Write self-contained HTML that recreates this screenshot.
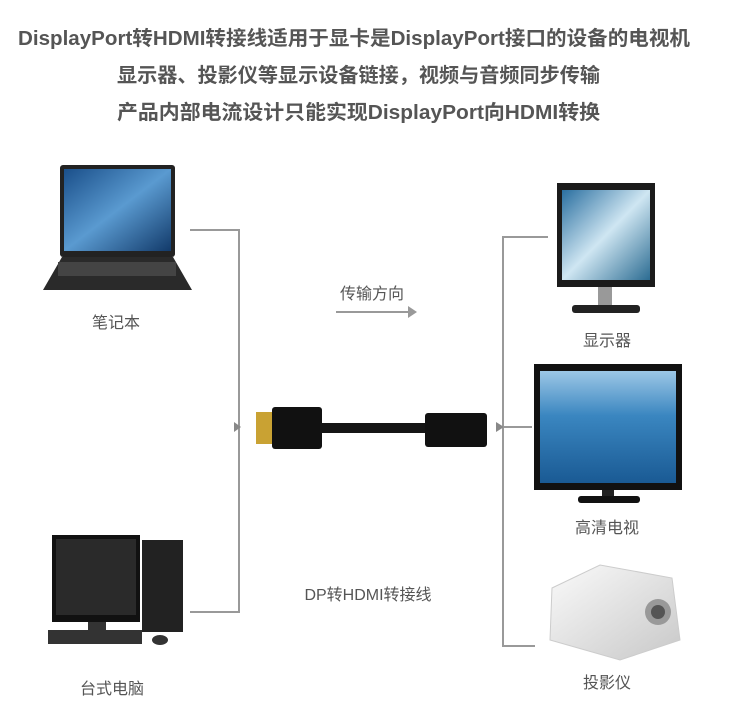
<!DOCTYPE html>
<html><head><meta charset="utf-8"><style>
body{margin:0;background:#fff;width:747px;height:707px;overflow:hidden}
svg text{font-family:"Liberation Sans","Noto Sans CJK SC",sans-serif;fill:#555}
</style></head><body>
<svg width="747" height="707" viewBox="0 0 747 707" xmlns="http://www.w3.org/2000/svg">
<defs>
<linearGradient id="scr" x1="0" y1="0" x2="1" y2="1"><stop offset="0" stop-color="#1a4f8a"/><stop offset=".5" stop-color="#5a9ad0"/><stop offset="1" stop-color="#123a6a"/></linearGradient>
<linearGradient id="sea" x1="0" y1="0" x2="0" y2="1"><stop offset="0" stop-color="#9cc7e6"/><stop offset=".4" stop-color="#3a86c0"/><stop offset="1" stop-color="#1a5a94"/></linearGradient>
<linearGradient id="mon" x1="0" y1="0" x2="1" y2="1"><stop offset="0" stop-color="#2a6fa0"/><stop offset=".5" stop-color="#cfe6f2"/><stop offset="1" stop-color="#2c6c92"/></linearGradient>
<linearGradient id="prj" x1="0" y1="0" x2="1" y2="1"><stop offset="0" stop-color="#fafafa"/><stop offset="1" stop-color="#c8c8c8"/></linearGradient>
</defs>
<g font-size="20" font-weight="bold" fill="#4a4a4a">
<text x="18" y="45" textLength="672" lengthAdjust="spacingAndGlyphs">DisplayPort转HDMI转接线适用于显卡是DisplayPort接口的设备的电视机</text>
<text x="117" y="82" textLength="483" lengthAdjust="spacingAndGlyphs">显示器、投影仪等显示设备链接，视频与音频同步传输</text>
<text x="117" y="119" textLength="483" lengthAdjust="spacingAndGlyphs">产品内部电流设计只能实现DisplayPort向HDMI转换</text>
</g>
<g stroke="#999" stroke-width="2" fill="none">
<path d="M190 230H239V612H190"/>
<path d="M548 237H503V646H535"/>
<path d="M503 427H532"/>
<path d="M336 312H412"/>
</g>
<path d="M234 422l7 5-7 5z" fill="#888"/>
<path d="M496 422l8 5-8 5z" fill="#888"/>
<path d="M408 306l9 6-9 6z" fill="#999"/>
<rect x="60" y="165" width="115" height="92" rx="3" fill="#222"/>
<rect x="64" y="169" width="107" height="82" fill="url(#scr)"/>
<path d="M62 257H173L192 290H43Z" fill="#2a2a2a"/>
<rect x="58" y="262" width="118" height="14" fill="#444"/>
<rect x="256" y="412" width="18" height="32" fill="#c9a233"/>
<rect x="272" y="407" width="50" height="42" rx="3" fill="#111"/>
<rect x="320" y="423" width="110" height="10" fill="#151515"/>
<rect x="425" y="413" width="62" height="34" rx="3" fill="#111"/>
<rect x="557" y="183" width="98" height="104" fill="#1b1b1b"/>
<rect x="562" y="190" width="88" height="90" fill="url(#mon)"/>
<rect x="598" y="287" width="14" height="20" fill="#999"/>
<rect x="572" y="305" width="68" height="8" rx="3" fill="#222"/>
<rect x="534" y="364" width="148" height="126" fill="#111"/>
<rect x="540" y="371" width="136" height="112" fill="url(#sea)"/>
<rect x="602" y="490" width="12" height="8" fill="#222"/>
<rect x="578" y="496" width="62" height="7" rx="3" fill="#111"/>
<path d="M552 588L600 565L672 578L680 640L620 660L550 640Z" fill="url(#prj)" stroke="#ccc"/>
<circle cx="658" cy="612" r="13" fill="#999"/><circle cx="658" cy="612" r="7" fill="#555"/>
<rect x="52" y="535" width="88" height="87" fill="#111"/>
<rect x="56" y="539" width="80" height="76" fill="#2a2a2a"/>
<rect x="88" y="622" width="18" height="8" fill="#333"/>
<rect x="142" y="540" width="41" height="92" fill="#222"/>
<rect x="48" y="630" width="94" height="14" fill="#333"/>
<ellipse cx="160" cy="640" rx="8" ry="5" fill="#333"/>
<g font-size="16" text-anchor="middle">
<text x="116" y="328">笔记本</text>
<text x="607" y="346">显示器</text>
<text x="607" y="533">高清电视</text>
<text x="607" y="688">投影仪</text>
<text x="112" y="694">台式电脑</text>
<text x="372" y="299">传输方向</text>
<text x="368" y="600">DP转HDMI转接线</text>
</g>
</svg>
</body></html>
